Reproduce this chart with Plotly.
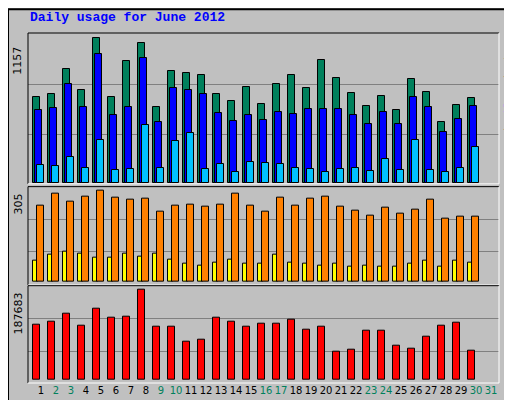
import plotly.graph_objects as go

days = list(range(1, 32))
weekend = [2, 3, 9, 10, 16, 17, 23, 24, 30, 31]

hits = [685, 708, 905, 740, 1157, 685, 968, 1118, 606, 890, 874, 858, 708, 653, 764,
        630, 787, 858, 756, 976, 834, 716, 614, 693, 583, 827, 724, 488, 622, 677]
files = [583, 598, 787, 606, 1023, 543, 606, 992, 488, 756, 740, 708, 559, 496, 543,
         504, 567, 551, 590, 590, 590, 543, 472, 567, 472, 685, 606, 409, 512, 614]
pages = [142, 134, 205, 118, 338, 102, 110, 464, 118, 331, 394, 110, 150, 87, 165,
         157, 150, 118, 110, 87, 110, 118, 94, 189, 102, 338, 102, 87, 118, 283]
sites = [255, 295, 269, 285, 305, 282, 275, 278, 235, 255, 259, 252, 259, 295, 255,
         235, 282, 255, 278, 285, 252, 239, 222, 249, 229, 242, 275, 212, 219, 219]
visits = [70, 93, 103, 96, 80, 83, 96, 86, 96, 76, 60, 56, 66, 76, 63,
          63, 93, 66, 63, 56, 60, 53, 56, 53, 53, 60, 70, 53, 73, 66]
kbytes = [115500, 121690, 138190, 113440, 148500, 129940, 132000, 187683, 111380, 111380,
          80440, 84560, 129940, 121690, 111380, 117560, 117560, 125810, 105190, 111380,
          59810, 63940, 103130, 103130, 72190, 66000, 90750, 113440, 119630, 61880]

d30 = days[:30]
fig = go.Figure()

def bars(vals, color, offset, width, yaxis):
    fig.add_trace(go.Bar(x=d30, y=vals, offset=offset, width=width, yaxis=yaxis,
                         marker=dict(color=color, line=dict(color="black", width=1)),
                         hoverinfo="y"))

bars(hits, "#00805c", -0.53, 0.47, "y")
bars(files, "#0000ff", -0.40, 0.47, "y")
bars(pages, "#00c0ff", -0.25, 0.47, "y")
bars(visits, "#ffff00", -0.51, 0.28, "y2")
bars(sites, "#ff8000", -0.25, 0.47, "y2")
bars(kbytes, "#ff0000", -0.51, 0.47, "y3")

ticktext = [f"<span style='color:#00805c'>{d}</span>" if d in weekend else str(d) for d in days]

yax = dict(showticklabels=False, showline=False, zeroline=False,
           gridcolor="#808080", gridwidth=1)
fig.update_layout(
    width=512, height=400, showlegend=False, barmode="overlay",
    margin=dict(l=20, r=21, t=25, b=22),
    paper_bgcolor="#c0c0c0", plot_bgcolor="#c0c0c0",
    font=dict(family="DejaVu Sans", size=11, color="black"),
    xaxis=dict(range=[0.13, 31.53], tickvals=days, ticktext=ticktext, anchor="y3",
               tickangle=0, showgrid=False, zeroline=False, ticks="",
               tickfont=dict(size=10)),
    yaxis=dict(domain=[0.569, 1], range=[-8, 1194], tickvals=[386, 787], **yax),
    yaxis2=dict(domain=[0.280, 0.561], range=[-10, 319], tickvals=[100.5, 209], **yax),
    yaxis3=dict(domain=[0, 0.278], range=[-6190, 195940], tickvals=[59810, 127875], **yax),
    bargap=0,
)

# panel frames (dark top/left, white bottom/right)
for lo, hi in [(0.569, 1), (0.280, 0.561), (0, 0.278)]:
    fig.add_shape(type="line", xref="paper", yref="paper", x0=0, x1=1, y0=hi, y1=hi, line=dict(color="black", width=1))
    fig.add_shape(type="line", xref="paper", yref="paper", x0=0, x1=0, y0=lo, y1=hi, line=dict(color="black", width=1))
    fig.add_shape(type="line", xref="paper", yref="paper", x0=0, x1=1, y0=lo, y1=lo, line=dict(color="white", width=1))
    fig.add_shape(type="line", xref="paper", yref="paper", x0=1, x1=1, y0=lo, y1=hi, line=dict(color="white", width=1))

# outer border
fig.add_shape(type="rect", xref="paper", yref="paper", x0=-20/471, x1=1 + 20/471,
              y0=-21/353, y1=1 + 24/353, line=dict(color="black", width=2))

fig.add_annotation(text="Daily usage for June 2012", xref="paper", yref="paper",
                   x=0, y=1 + 16/353, xanchor="left", yanchor="middle", showarrow=False,
                   font=dict(family="Liberation Mono", size=13, color="#0000ff", weight="bold"))

for y, label in [(1 - 28/353, "1157"), (0.561 - 18/353, "305"), (0.278 - 28/353, "187683")]:
    fig.add_annotation(text=label, xref="paper", yref="paper", x=-10/471, y=y,
                       xanchor="center", yanchor="middle", textangle=-90, showarrow=False,
                       font=dict(family="DejaVu Sans", size=11))

mono = dict(family="Liberation Mono", size=11)
fig.add_annotation(
    text="<span style='color:#00c0ff'>Pages</span> / <span style='color:#0000ff'>Files</span> / <span style='color:#00805c'>Hits</span>",
    xref="paper", yref="paper", x=1 + 10/471, y=1 - 76/353, xanchor="center", yanchor="middle",
    textangle=-90, showarrow=False, font=mono)
fig.add_annotation(
    text="<span style='color:#ff0000'>kB F</span> / <span style='color:#0000ff'>kB In</span> / <span style='color:#00805c'>kB Out</span> <span style='color:#ff8000'>Sites</span> / <span style='color:#ffff00'>Visits</span>",
    xref="paper", yref="paper", x=1 + 10/471, y=0.39, xanchor="center", yanchor="middle",
    textangle=-90, showarrow=False, font=mono)

fig.write_html("out.html")
